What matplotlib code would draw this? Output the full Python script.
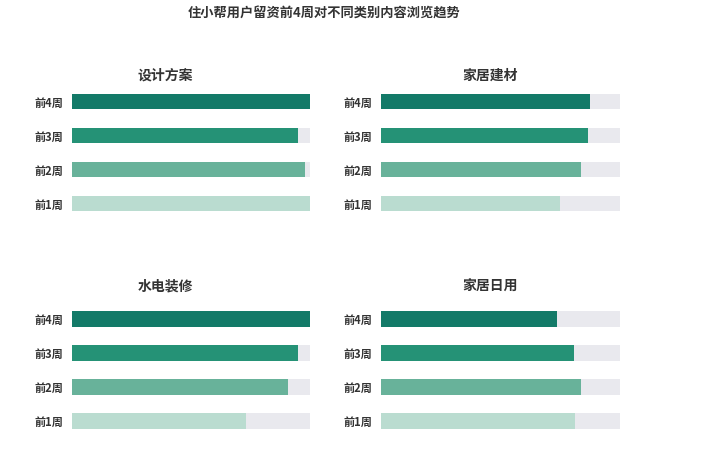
import numpy as np
import matplotlib.pyplot as plt

plt.rcParams['font.family'] = ['Noto Sans CJK SC', 'DejaVu Sans']

# Data (share of the full bar length)
weeks = ['前4周', '前3周', '前2周', '前1周']
panel_titles = ['设计方案', '家居建材', '水电装修', '家居日用']
design_plan = [1.0, 0.947, 0.976, 1.0]
home_material = [0.874, 0.865, 0.837, 0.748]
plumbing = [1.0, 0.947, 0.908, 0.732]
daily_goods = [0.735, 0.809, 0.837, 0.812]

bar_colors = ['#137a68', '#259276', '#68b29a', '#badcd0']
back_color = '#e9e9ee'
text_color = '#333333'

W, H = 715, 454


def px_axes(fig, left, top, right, bottom):
    # axes placed by pixel box of the reference
    return fig.add_axes([left / W, 1 - bottom / H, (right - left) / W, (bottom - top) / H])


def draw_panel(ax, values):
    y = np.arange(len(weeks))
    ax.barh(y, [1.0] * len(weeks), height=0.47, color=back_color, zorder=1)
    ax.barh(y, values, height=0.47, color=bar_colors, zorder=2)
    ax.set_xlim(0, 1.0)
    ax.set_ylim(len(weeks) - 0.5, -0.5)
    ax.set_yticks(y)
    ax.set_yticklabels(weeks, fontsize=8, fontweight='bold', color=text_color)
    ax.tick_params(axis='y', length=0, pad=6)
    ax.set_xticks([])
    for s in ax.spines.values():
        s.set_visible(False)


fig = plt.figure(figsize=(W / 100, H / 100), dpi=100)

ax1 = px_axes(fig, 71.7, 84.5, 310.3, 220.5)
ax2 = px_axes(fig, 381, 84.5, 620, 220.5)
ax3 = px_axes(fig, 71.7, 301.8, 310.3, 437.7)
ax4 = px_axes(fig, 381, 301.8, 620, 437.7)

draw_panel(ax1, design_plan)
draw_panel(ax2, home_material)
draw_panel(ax3, plumbing)
draw_panel(ax4, daily_goods)

# panel titles
fig.text(165.5 / W, 1 - 75.7 / H, panel_titles[0], ha='center', va='center',
         fontsize=10, fontweight='bold', color=text_color)
fig.text(490 / W, 1 - 75.7 / H, panel_titles[1], ha='center', va='center',
         fontsize=10, fontweight='bold', color=text_color)
fig.text(165.5 / W, 1 - 286.7 / H, panel_titles[2], ha='center', va='center',
         fontsize=10, fontweight='bold', color=text_color)
fig.text(490 / W, 1 - 286.7 / H, panel_titles[3], ha='center', va='center',
         fontsize=10, fontweight='bold', color=text_color)

# main title
fig.text(324 / W, 1 - 13.5 / H, '住小帮用户留资前4周对不同类别内容浏览趋势',
         ha='center', va='center', fontsize=9.5, fontweight='bold', color=text_color)

fig.savefig('out.png', dpi=100)
